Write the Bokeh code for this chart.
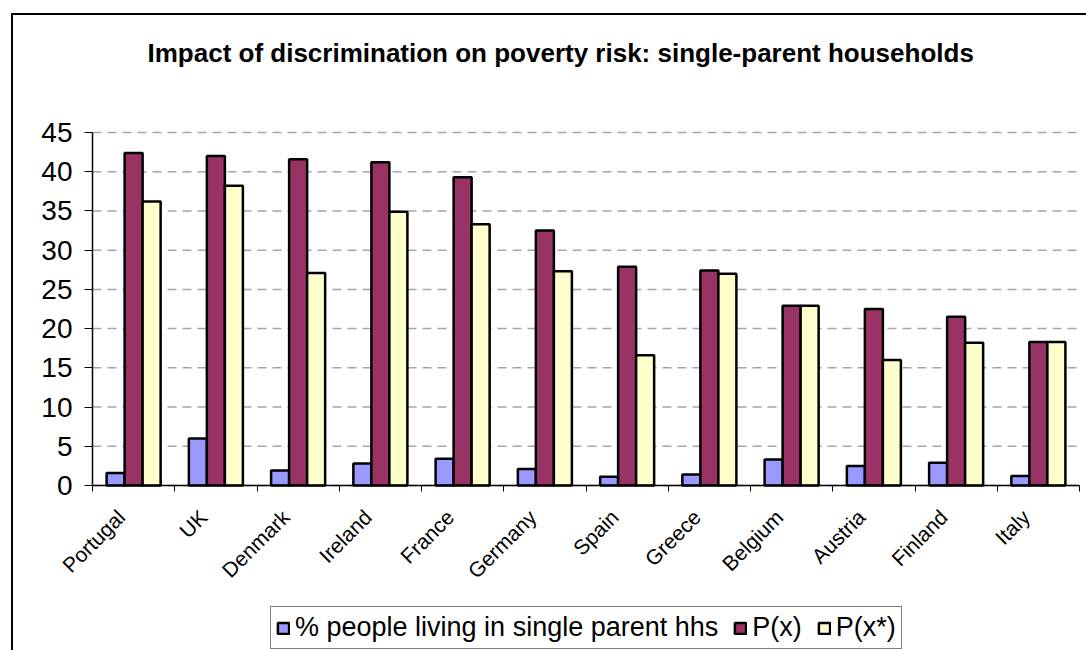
import numpy as np
from bokeh.plotting import figure
from bokeh.models import (ColumnDataSource, FixedTicker, Range1d, Legend, LegendItem, Label)
from bokeh.transform import dodge
from bokeh.embed import file_html
from bokeh.resources import INLINE
from math import pi

countries = ["Portugal", "UK", "Denmark", "Ireland", "France", "Germany",
             "Spain", "Greece", "Belgium", "Austria", "Finland", "Italy"]
share_single_parent = [1.6, 6.0, 1.9, 2.8, 3.4, 2.1, 1.1, 1.4, 3.3, 2.5, 2.9, 1.2]
p_x = [42.4, 42.0, 41.6, 41.2, 39.3, 32.5, 27.9, 27.4, 22.9, 22.5, 21.5, 18.3]
p_x_star = [36.2, 38.2, 27.1, 34.9, 33.3, 27.3, 16.6, 27.0, 22.9, 16.0, 18.2, 18.3]
y_ticks = [0, 5, 10, 15, 20, 25, 30, 35, 40, 45]
series_labels = ["% people living in single parent hhs", "P(x)", "P(x*)"]
title_text = "Impact of discrimination on poverty risk: single-parent households"

FONT = "Liberation Sans"
n = len(countries)
y_max = 45
centers = [i + 0.5 for i in range(n)]
label_pos = [c - 0.15 for c in centers]   # label anchors sit slightly left of group centres
bounds = list(range(n + 1))

# layout in pixels: the frame covers the whole canvas; the plot area is 987 x 353 px inside it
CANVAS_W, CANVAS_H = 1073, 635
PLOT_LEFT, PLOT_W = 79, 987        # plot area left offset / width inside the canvas
PLOT_TOP, PLOT_H = 117, 353        # plot area top offset / height inside the canvas
px_x = PLOT_W / n
px_y = PLOT_H / y_max
x_lo = -PLOT_LEFT / px_x
x_hi = (CANVAS_W - PLOT_LEFT) / px_x
y_hi = y_max + PLOT_TOP / px_y
y_lo = -(CANVAS_H - PLOT_TOP - PLOT_H) / px_y

src = ColumnDataSource(dict(x=centers, share=share_single_parent, px=p_x, pxs=p_x_star))

p = figure(frame_width=CANVAS_W, frame_height=CANVAS_H, output_backend="svg", toolbar_location=None,
           x_range=Range1d(x_lo, x_hi), y_range=Range1d(y_lo, y_hi),
           min_border_left=0, min_border_right=0, min_border_top=0, min_border_bottom=0)
p.margin = (13, 0, 0, 11)
p.styles = {"border-left": "2px solid black", "border-top": "2px solid black"}
p.outline_line_color = None
p.background_fill_color = "white"
p.border_fill_color = "white"
p.xgrid.visible = False
p.ygrid.visible = False

# dashed gridlines across the plot area
p.segment(x0=[0] * len(y_ticks), x1=[n] * len(y_ticks), y0=y_ticks, y1=y_ticks,
          line_color="#a6a6a6", line_dash="9 6", line_width=1.5)

bw = 0.219
common = dict(source=src, width=bw, bottom=0, line_color="black", line_width=2.5)
r1 = p.vbar(x=dodge("x", -bw, range=p.x_range), top="share", fill_color="#9999FF", **common)
r2 = p.vbar(x=dodge("x", 0.0, range=p.x_range), top="px", fill_color="#993366", **common)
r3 = p.vbar(x=dodge("x", bw, range=p.x_range), top="pxs", fill_color="#FFFFCC", **common)

# x axis, drawn at y = 0
xa = p.xaxis[0]
xa.fixed_location = 0
xa.bounds = (0, n)
xa.ticker = FixedTicker(ticks=label_pos, minor_ticks=bounds)
xa.major_label_overrides = {c: nm for c, nm in zip(label_pos, countries)}
xa.major_label_orientation = pi / 4
xa.major_tick_out = 0
xa.major_tick_in = 0
xa.minor_tick_out = 6
xa.minor_tick_in = 0
xa.minor_tick_line_color = "black"
xa.axis_line_color = "black"
xa.axis_line_width = 1.5
xa.major_label_text_font = FONT
xa.major_label_text_font_size = "21px"
xa.major_label_text_color = "black"
xa.major_label_standoff = 22

# y axis, drawn at x = 0
ya = p.yaxis[0]
ya.fixed_location = 0
ya.bounds = (0, y_max)
ya.ticker = FixedTicker(ticks=y_ticks)
ya.minor_tick_line_color = None
ya.major_tick_out = 8
ya.major_tick_in = 0
ya.major_tick_line_color = "black"
ya.axis_line_color = "black"
ya.axis_line_width = 1.5
ya.major_label_text_font = FONT
ya.major_label_text_font_size = "28px"
ya.major_label_text_color = "black"
ya.major_label_standoff = 12

title = Label(x=134, y=598, x_units="screen", y_units="screen", text=title_text,
              text_align="left", text_baseline="alphabetic",
              text_font=FONT, text_font_style="bold", text_font_size="26px", text_color="black")
p.add_layout(title)

legend = Legend(items=[LegendItem(label=series_labels[0], renderers=[r1]),
                       LegendItem(label=series_labels[1], renderers=[r2]),
                       LegendItem(label=series_labels[2], renderers=[r3])],
                orientation="horizontal", location=(257, 1),
                border_line_color="black", border_line_width=1,
                glyph_width=14, glyph_height=14, label_standoff=5, spacing=15, padding=5,
                label_text_font=FONT, label_text_font_size="27px", label_text_color="black",
                background_fill_color="white", background_fill_alpha=1)
p.add_layout(legend, "center")

open("out.html", "w").write(file_html(p, INLINE))
